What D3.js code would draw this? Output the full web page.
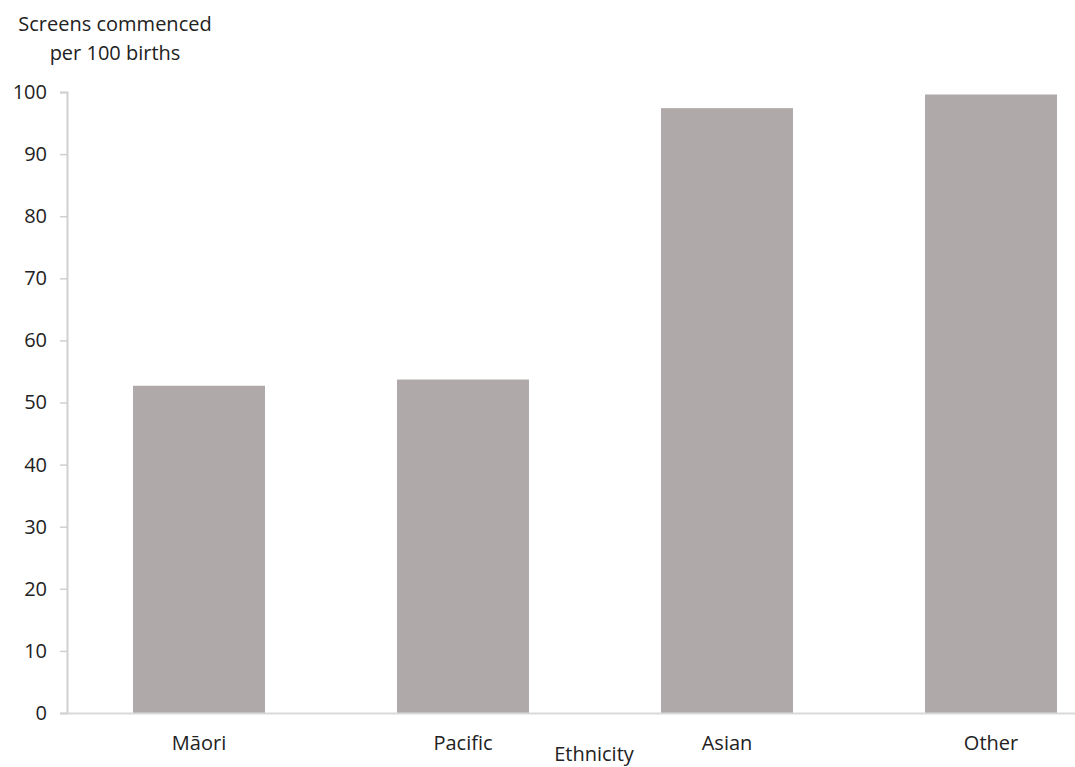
<!DOCTYPE html>
<html>
<head>
<meta charset="utf-8">
<script src="https://cdn.jsdelivr.net/npm/d3@7"></script>
<style>
  html, body { margin: 0; padding: 0; background: #fff; }
  svg { display: block; }
  text { font-family: "Open Sans", sans-serif; fill: #222; }
</style>
</head>
<body>
<svg id="chart" width="1075" height="767"></svg>
<script>
// Newborn screens commenced per 100 births, by ethnicity
const categories = ["Māori", "Pacific", "Asian", "Other"];
const values = [52.7, 53.7, 97.4, 99.6];
const yTicks = [0, 10, 20, 30, 40, 50, 60, 70, 80, 90, 100];

const svg = d3.select("#chart");
const plotLeft = 67, plotRight = 1123, plotTop = 92, plotBottom = 713;
const fontSize = "20px";

const x = d3.scaleBand()
  .domain(categories)
  .range([plotLeft, plotRight])
  .paddingInner(0.5)
  .paddingOuter(0.25);

const y = d3.scaleLinear().domain([0, 100]).range([plotBottom, plotTop]);

// Bars
svg.append("g")
  .selectAll("rect")
  .data(categories.map((c, i) => ({ c, v: values[i] })))
  .join("rect")
  .attr("x", d => x(d.c))
  .attr("y", d => y(d.v))
  .attr("width", x.bandwidth())
  .attr("height", d => y(0) - y(d.v))
  .attr("fill", "#afaaa9");

// Y axis
const yAxis = svg.append("g")
  .attr("transform", `translate(${plotLeft},0)`)
  .call(d3.axisLeft(y).tickValues(yTicks).tickSize(7).tickPadding(13));
yAxis.select(".domain").attr("stroke", "#d0d0d0").attr("stroke-width", 2);
yAxis.selectAll(".tick line").attr("stroke", "#d0d0d0").attr("stroke-width", 1.5);
yAxis.selectAll(".tick text")
  .style("font-size", fontSize)
  .style("font-family", "'Open Sans', sans-serif")
  .attr("fill", "#222");

// X axis
const xAxis = svg.append("g")
  .attr("transform", `translate(0,${plotBottom})`)
  .call(d3.axisBottom(x).tickSize(0).tickPadding(23));
xAxis.select(".domain").attr("stroke", "#d9d9d9").attr("stroke-width", 2);
xAxis.selectAll(".tick text")
  .style("font-size", fontSize)
  .style("font-family", "'Open Sans', sans-serif")
  .attr("fill", "#222");

// Axis titles
const yTitle = svg.append("text")
  .attr("text-anchor", "middle")
  .style("font-size", fontSize);
yTitle.append("tspan").attr("x", 115).attr("y", 31).text("Screens commenced");
yTitle.append("tspan").attr("x", 115).attr("y", 60).text("per 100 births");

svg.append("text")
  .attr("x", 594)
  .attr("y", 761)
  .attr("text-anchor", "middle")
  .style("font-size", fontSize)
  .text("Ethnicity");
</script>
</body>
</html>
